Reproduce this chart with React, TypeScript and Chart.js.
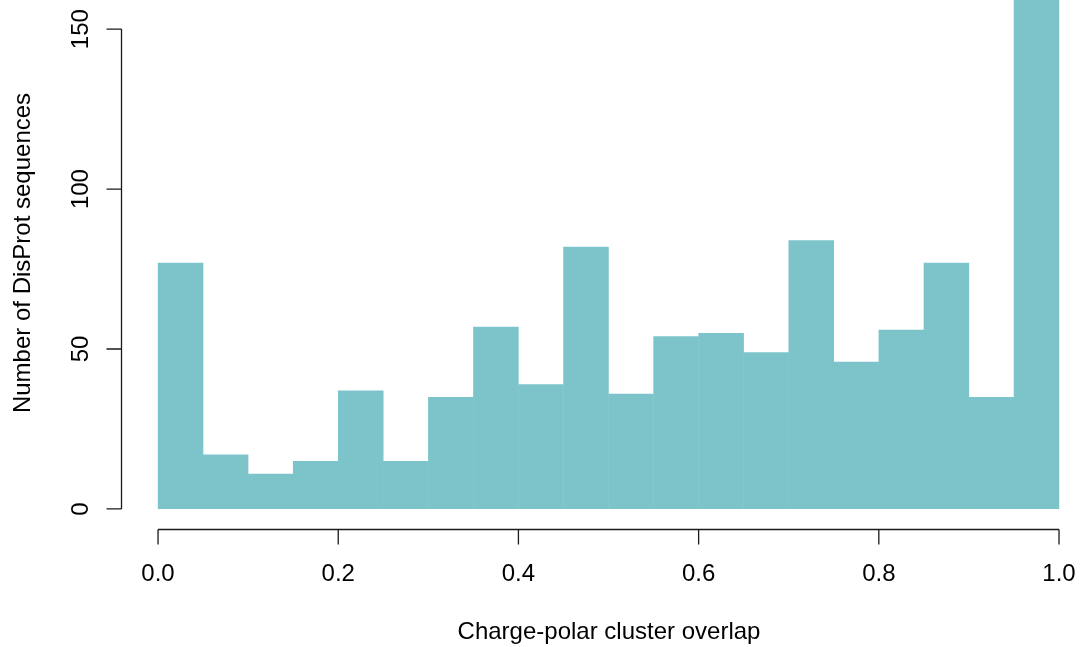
import React, { useEffect, useRef } from "react";
import { Chart, registerables } from "chart.js";

Chart.register(...registerables);

const binStarts = [0, 0.05, 0.1, 0.15, 0.2, 0.25, 0.3, 0.35, 0.4, 0.45, 0.5, 0.55, 0.6, 0.65, 0.7, 0.75, 0.8, 0.85, 0.9, 0.95];
const counts = [77, 17, 11, 15, 37, 15, 35, 57, 39, 82, 36, 54, 55, 49, 84, 46, 56, 77, 35, 180];
const binWidth = 0.05;
const xTicks = [0, 0.2, 0.4, 0.6, 0.8, 1.0];
const xTickLabels = ["0.0", "0.2", "0.4", "0.6", "0.8", "1.0"];
const yTicks = [0, 50, 100, 150];
const yTickLabels = ["0", "50", "100", "150"];
const xTitle = "Charge-polar cluster overlap";
const yTitle = "Number of DisProt sequences";

const FONT = "'Liberation Sans', Arial, Helvetica, sans-serif";
const BAR_COLOR = "#7CC4C9";
const AXIS_COLOR = "#1a1a1a";

const rAxesPlugin = {
  id: "rAxes",
  afterDraw(chart: any) {
    const ctx = chart.ctx as CanvasRenderingContext2D;
    const xs = chart.scales.x;
    const ys = chart.scales.y;
    const area = chart.chartArea;
    ctx.save();
    ctx.strokeStyle = AXIS_COLOR;
    ctx.fillStyle = "#000";
    ctx.lineWidth = 1.3;
    ctx.font = `24px ${FONT}`;

    // x axis
    const xAxisY = area.bottom + 0.5;
    const x0 = xs.getPixelForValue(xTicks[0]);
    const x1 = xs.getPixelForValue(xTicks[xTicks.length - 1]);
    ctx.beginPath();
    ctx.moveTo(x0, xAxisY);
    ctx.lineTo(x1, xAxisY);
    xTicks.forEach((t) => {
      const px = xs.getPixelForValue(t);
      ctx.moveTo(px, xAxisY);
      ctx.lineTo(px, xAxisY + 15);
    });
    ctx.stroke();
    ctx.textAlign = "center";
    ctx.textBaseline = "middle";
    xTicks.forEach((t, i) => {
      ctx.fillText(xTickLabels[i], xs.getPixelForValue(t), 574);
    });

    // y axis
    const yAxisX = area.left - 0.5;
    const y0 = ys.getPixelForValue(yTicks[0]);
    const y1 = ys.getPixelForValue(yTicks[yTicks.length - 1]);
    ctx.beginPath();
    ctx.moveTo(yAxisX, y0);
    ctx.lineTo(yAxisX, y1);
    yTicks.forEach((t) => {
      const py = ys.getPixelForValue(t);
      ctx.moveTo(yAxisX, py);
      ctx.lineTo(yAxisX - 15, py);
    });
    ctx.stroke();
    yTicks.forEach((t, i) => {
      const py = ys.getPixelForValue(t);
      ctx.save();
      ctx.translate(81, py);
      ctx.rotate(-Math.PI / 2);
      ctx.fillText(yTickLabels[i], 0, 0);
      ctx.restore();
    });

    // titles
    ctx.fillText(xTitle, 609, 632);
    ctx.save();
    ctx.translate(23, 253);
    ctx.rotate(-Math.PI / 2);
    ctx.fillText(yTitle, 0, 0);
    ctx.restore();

    ctx.restore();
  },
};

export default function App() {
  const canvasRef = useRef<HTMLCanvasElement | null>(null);

  useEffect(() => {
    if (!canvasRef.current) return;
    const data = binStarts.map((s, i) => ({ x: s + binWidth / 2, y: counts[i] }));
    const chart = new Chart(canvasRef.current, {
      type: "bar",
      data: {
        datasets: [
          {
            data: data as any,
            backgroundColor: BAR_COLOR,
            borderColor: BAR_COLOR,
            borderWidth: 0,
            barPercentage: 1.01,
            categoryPercentage: 1,
          },
        ],
      },
      options: {
        animation: false,
        responsive: false,
        maintainAspectRatio: false,
        layout: { padding: { left: 122, right: 0, top: 0, bottom: 118 } },
        plugins: {
          legend: { display: false },
          tooltip: { enabled: false },
        },
        scales: {
          x: { type: "linear", display: false, offset: false, bounds: "ticks", min: -0.04, max: 1.0244 },
          y: { type: "linear", display: false, min: -6.26, max: 159.1 },
        },
      },
      plugins: [rAxesPlugin],
    });
    return () => chart.destroy();
  }, []);

  return (
    <div style={{ position: "fixed", left: 0, top: 0, width: 1081, height: 647, background: "#fff" }}>
      <canvas ref={canvasRef} width={1081} height={647} style={{ display: "block" }} />
    </div>
  );
}
